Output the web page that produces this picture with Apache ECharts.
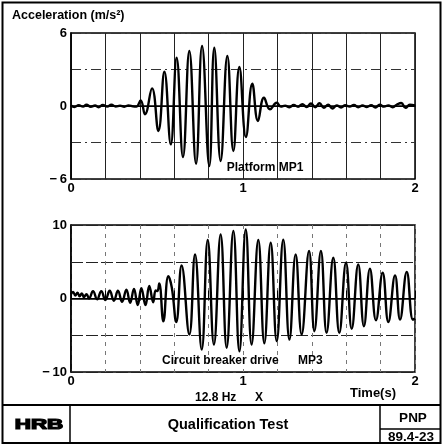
<!DOCTYPE html>
<html>
<head>
<meta charset="utf-8">
<script src="https://cdn.jsdelivr.net/npm/echarts@6/dist/echarts.min.js"></script>
<style>
html,body{margin:0;padding:0;background:#fff;}
#c{width:442px;height:446px;}
</style>
</head>
<body>
<div id="c"></div>
<script>
// ---- data ----
const xTickLabels = ['0', '1', '2'];
const mp1YTicks = [-6, 0, 6];
const mp3YTicks = [-10, 0, 10];

// Platform MP1 (time s, acceleration m/s^2)
const mp1Time = [
  0, 0.02, 0.045, 0.07, 0.09, 0.115, 0.14, 0.16, 0.185, 0.21, 0.235, 0.26, 0.285, 0.31, 0.335, 0.36, 0.38,
  0.405, 0.43, 0.471, 0.508, 0.543, 0.58, 0.614, 0.651, 0.688, 0.727, 0.762, 0.804, 0.833, 0.870, 0.909, 0.944, 0.979, 1.017, 1.054, 1.087, 1.122, 1.157, 1.196,
  1.22, 1.245, 1.27, 1.295, 1.32, 1.345, 1.37, 1.395, 1.42, 1.445, 1.47, 1.495, 1.52, 1.545, 1.57, 1.595, 1.62, 1.645, 1.67, 1.695, 1.72, 1.745, 1.77, 1.795, 1.82, 1.845, 1.87, 1.895, 1.92, 1.945, 1.97, 2.0
];
const mp1Accel = [
  0.05, -0.08, 0.06, -0.05, 0.1, -0.06, 0.04, -0.1, 0.08, -0.05, 0.1, -0.04, 0.03, -0.06, 0.05, -0.03, -0.05,
  0.45, -0.68, 1.45, -2.05, 2.82, -3.15, 3.97, -4.2, 4.52, -4.74, 4.93, -4.93, 4.79, -4.52, 4.11, -3.7, 3.2, -2.55, 1.83, -1.23, 0.68, -0.27, 0.27,
  -0.05, 0.03, -0.1, 0.08, -0.06, 0.15, -0.08, 0.2, -0.1, 0.22, -0.15, 0.1, -0.2, 0.05, -0.12, 0.06, -0.05, 0.08, -0.1, 0.04, -0.08, 0.06, -0.12, 0.1, -0.05, 0.05, -0.1, 0.12, 0.25, -0.15, 0.1, 0.05
];

// Circuit breaker drive MP3
const mp3Time = [
  0, 0.012, 0.025, 0.038, 0.05, 0.063, 0.075, 0.09, 0.105,
  0.128, 0.152, 0.176, 0.2, 0.225, 0.249, 0.273, 0.297, 0.322, 0.344, 0.366, 0.388, 0.409, 0.433, 0.455, 0.478,
  0.492, 0.502, 0.513, 0.537, 0.566, 0.586, 0.612,
  0.643, 0.688, 0.721, 0.76, 0.795, 0.831, 0.870, 0.905, 0.944, 0.979,
  1.016, 1.05, 1.089, 1.124, 1.161, 1.196, 1.234, 1.27, 1.306, 1.341,
  1.384, 1.415, 1.453, 1.486, 1.525, 1.56, 1.599, 1.632, 1.670, 1.703,
  1.738, 1.773, 1.812, 1.845, 1.884, 1.913, 1.952, 1.988, 2.0
];
const mp3Accel = [
  0.6, 0.9, 0.4, 0.8, 0.3, 0.7, 0.2, 0.6, 0.0,
  1.0, -0.1, 1.0, -0.2, 1.05, -0.3, 1.05, -0.45, 1.2, -0.6, 1.3, -0.9, 1.4, -0.9, 1.7, -0.5,
  1.1, 1.0, 2.05, -3.1, 3.05, 1.5, -3.2,
  4.5, -4.9, 6.0, -6.95, 7.96, -6.27, 8.73, -6.7, 9.2, -7.2,
  9.4, -6.27, 7.96, -6.1, 7.6, -5.8, 8.0, -5.6, 6.0, -4.9,
  6.46, -4.45, 6.46, -4.68, 5.55, -4.68, 4.87, -4.13, 4.64, -3.77,
  4.05, -2.95, 3.5, -3.2, 3.14, -2.86, 3.6, -2.9, -2.7
];

// ---- chart ----
const FONT = '"Liberation Sans", Arial, Helvetica, sans-serif';
const mp1Data = mp1Time.map((t, i) => [t, mp1Accel[i]]);
const mp3Data = mp3Time.map((t, i) => [t, mp3Accel[i]]);

function xLabel(v) {
  const r = Math.round(v);
  if (Math.abs(v - r) < 1e-6 && xTickLabels[r] !== undefined) return xTickLabels[r];
  return '';
}
function yLabelFor(ticks) {
  return function (v) {
    for (const t of ticks) {
      if (Math.abs(v - t) < 1e-6) return t < 0 ? '\u2212\u2009' + Math.abs(t) : String(t);
    }
    return '';
  };
}

const labelStyle = { color: '#000', fontFamily: FONT, fontWeight: 'bold', fontSize: 13 };

const chart = echarts.init(document.getElementById('c'), null, { renderer: 'canvas' });
chart.setOption({
  animation: false,
  backgroundColor: '#fff',
  grid: [
    { left: 71, top: 33, width: 344, height: 146, show: true, borderColor: '#000', borderWidth: 1.5, backgroundColor: 'transparent' },
    { left: 71, top: 225, width: 344, height: 147, show: true, borderColor: '#000', borderWidth: 1.5, backgroundColor: 'transparent' }
  ],
  xAxis: [
    {
      gridIndex: 0, type: 'value', min: 0, max: 2, interval: 0.2,
      axisLine: { show: true, lineStyle: { color: '#000', width: 1.5 } },
      axisTick: { show: false },
      axisLabel: Object.assign({ formatter: xLabel, margin: 3, showMinLabel: true, showMaxLabel: true }, labelStyle),
      splitLine: { show: true, lineStyle: { color: '#222', width: 1, type: 'solid' } }
    },
    {
      gridIndex: 1, type: 'value', min: 0, max: 2, interval: 0.2,
      axisLine: { show: true, lineStyle: { color: '#000', width: 1.5 } },
      axisTick: { show: true, inside: true, length: 8, lineStyle: { color: '#000', width: 1 } },
      axisLabel: Object.assign({ formatter: xLabel, margin: 3, showMinLabel: true, showMaxLabel: true }, labelStyle),
      splitLine: { show: true, lineStyle: { color: '#777', width: 1, type: [4, 5] } }
    }
  ],
  yAxis: [
    {
      gridIndex: 0, type: 'value', min: -6, max: 6, interval: 3,
      axisLine: { show: true, lineStyle: { color: '#000', width: 1.5 } },
      axisTick: { show: false },
      axisLabel: Object.assign({ formatter: yLabelFor(mp1YTicks), margin: 4 }, labelStyle),
      splitLine: { show: true, lineStyle: { color: '#333', width: 1, type: [10, 4, 2, 4] } }
    },
    {
      gridIndex: 1, type: 'value', min: -10, max: 10, interval: 5,
      axisLine: { show: true, lineStyle: { color: '#000', width: 1.5 } },
      axisTick: { show: false },
      axisLabel: Object.assign({ formatter: yLabelFor(mp3YTicks), margin: 4 }, labelStyle),
      splitLine: { show: true, lineStyle: { color: '#222', width: 1, type: [12, 3] } }
    }
  ],
  series: [
    {
      type: 'line', xAxisIndex: 0, yAxisIndex: 0, data: mp1Data,
      showSymbol: false, smooth: 0.45,
      lineStyle: { color: '#000', width: 2.4 },
      markLine: { silent: true, symbol: 'none', label: { show: false }, lineStyle: { color: '#000', width: 1, type: 'solid' }, data: [{ yAxis: 0 }] }
    },
    {
      type: 'line', xAxisIndex: 1, yAxisIndex: 1, data: mp3Data,
      showSymbol: false, smooth: 0.45,
      lineStyle: { color: '#000', width: 2.4 },
      markLine: { silent: true, symbol: 'none', label: { show: false }, lineStyle: { color: '#000', width: 1, type: 'solid' }, data: [{ yAxis: 0 }] }
    }
  ],
  graphic: [
    { type: 'rect', shape: { x: 2.5, y: 2.5, width: 438, height: 440.5 }, style: { fill: 'none', stroke: '#000', lineWidth: 2 }, z: 100 },
    { type: 'line', shape: { x1: 2, y1: 405, x2: 441, y2: 405 }, style: { stroke: '#000', lineWidth: 2 }, z: 100 },
    { type: 'line', shape: { x1: 70, y1: 405, x2: 70, y2: 443 }, style: { stroke: '#000', lineWidth: 1.5 }, z: 100 },
    { type: 'line', shape: { x1: 380, y1: 405, x2: 380, y2: 443 }, style: { stroke: '#000', lineWidth: 1.5 }, z: 100 },
    { type: 'line', shape: { x1: 380, y1: 429, x2: 441, y2: 429 }, style: { stroke: '#000', lineWidth: 1.5 }, z: 100 },
    { type: 'text', style: { text: 'Acceleration (m/s\u00B2)', x: 12, y: 16, align: 'left', verticalAlign: 'middle', fill: '#000', font: 'bold 12.5px ' + FONT }, z: 100 },
    { type: 'text', style: { text: 'Platform MP1', x: 265, y: 168, align: 'center', verticalAlign: 'middle', fill: '#000', font: 'bold 12px ' + FONT }, z: 100 },
    { type: 'text', style: { text: 'Circuit breaker drive', x: 162, y: 361, align: 'left', verticalAlign: 'middle', fill: '#000', font: 'bold 12px ' + FONT }, z: 100 },
    { type: 'text', style: { text: 'MP3', x: 298, y: 361, align: 'left', verticalAlign: 'middle', fill: '#000', font: 'bold 12px ' + FONT }, z: 100 },
    { type: 'text', style: { text: 'Time(s)', x: 373, y: 393, align: 'center', verticalAlign: 'middle', fill: '#000', font: 'bold 13px ' + FONT }, z: 100 },
    { type: 'text', style: { text: '12.8 Hz', x: 195, y: 398, align: 'left', verticalAlign: 'middle', fill: '#000', font: 'bold 12px ' + FONT }, z: 100 },
    { type: 'text', style: { text: 'X', x: 259, y: 398, align: 'center', verticalAlign: 'middle', fill: '#000', font: 'bold 12px ' + FONT }, z: 100 },
    { type: 'text', x: 39, y: 425, scaleX: 1.6, style: { text: 'HRB', x: 0, y: 0, align: 'center', verticalAlign: 'middle', fill: '#000', stroke: '#000', lineWidth: 1.2, font: 'bold 14px ' + FONT }, z: 100 },
    { type: 'text', style: { text: 'Qualification Test', x: 228, y: 425, align: 'center', verticalAlign: 'middle', fill: '#000', font: 'bold 14.5px ' + FONT }, z: 100 },
    { type: 'text', style: { text: 'PNP', x: 413, y: 418, align: 'center', verticalAlign: 'middle', fill: '#000', font: 'bold 13.5px ' + FONT }, z: 100 },
    { type: 'text', style: { text: '89.4-23', x: 411, y: 437, align: 'center', verticalAlign: 'middle', fill: '#000', font: 'bold 13.5px ' + FONT }, z: 100 }
  ]
});
</script>
</body>
</html>
